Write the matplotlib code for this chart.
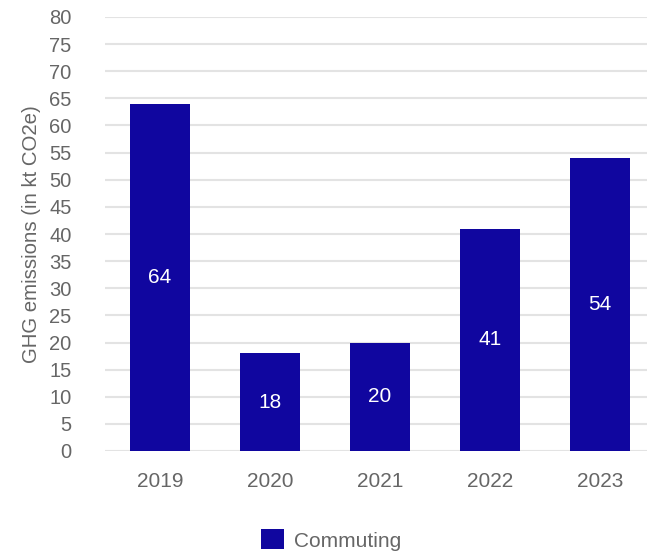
import matplotlib.pyplot as plt

years = ["2019", "2020", "2021", "2022", "2023"]
commuting = [64, 18, 20, 41, 54]

plt.rcParams["font.family"] = ["Liberation Sans", "DejaVu Sans"]

fig = plt.figure(figsize=(6.47, 5.52), dpi=100)
ax = fig.add_axes([105 / 647, 101 / 552, 550 / 647, 434 / 552])

x = range(len(years))
bars = ax.bar(x, commuting, width=60 / 110, color="#10069f", label="Commuting", zorder=2)
ax.bar_label(bars, labels=[str(v) for v in commuting], label_type="center",
             color="white", fontsize=15)

ax.set_xlim(-0.5, 4.5)
ax.set_ylim(0, 80)
ax.set_yticks(range(0, 81, 5))
ax.set_xticks(list(x))
ax.set_xticklabels(years)
ax.tick_params(axis="y", length=0, pad=24, labelsize=14.5, labelcolor="#666666")
ax.tick_params(axis="x", length=0, pad=15, labelsize=15, labelcolor="#666666")
ax.grid(axis="y", color="#e3e3e3", linewidth=1.5, zorder=0)
for s in ax.spines.values():
    s.set_visible(False)

ax.set_ylabel("GHG emissions (in kt CO2e)", fontsize=14.7, color="#666666", labelpad=6)

fig.legend(handles=[bars], labels=["Commuting"], loc="center", bbox_to_anchor=(331 / 647, 1 - 540 / 552),
           frameon=False, fontsize=15, labelcolor="#666666", handlelength=1.1, handleheight=1.1,
           handletextpad=0.45)

fig.savefig("out.png", dpi=100)
